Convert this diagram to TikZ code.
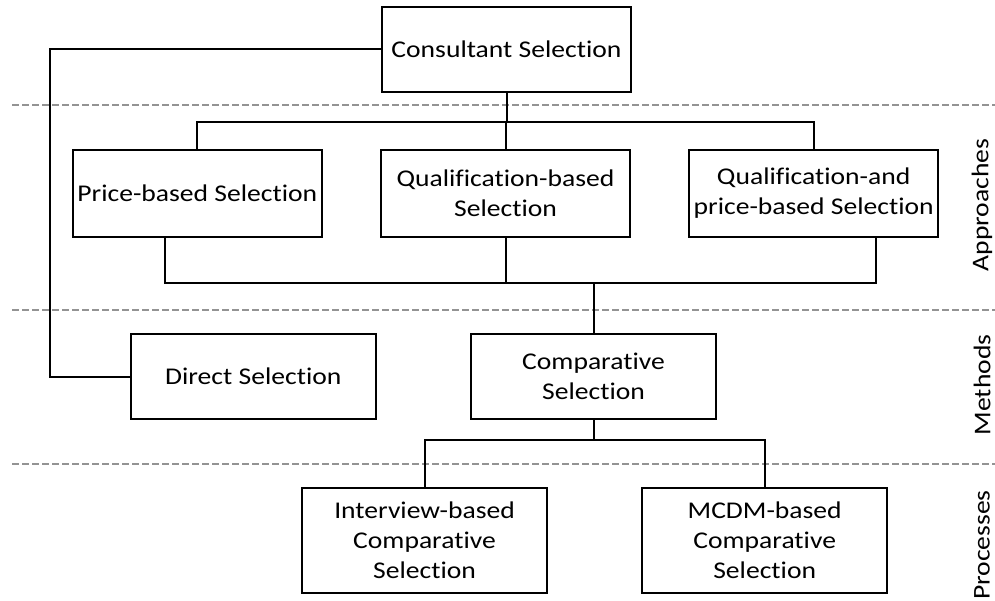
\documentclass[tikz,border=0pt]{standalone}
\usepackage{fontspec}
\setmainfont{Carlito}[FakeStretch=1.15,Ligatures=NoCommon]
\usetikzlibrary{positioning}
\usetikzlibrary{calc}
\tikzstyle{selbox}=[draw,rectangle,line width=2.2pt,align=center,inner sep=2pt,minimum width=245pt,minimum height=85pt,font=\fontsize{24}{30}\selectfont]
\tikzstyle{wide}=[minimum width=249pt]
\tikzstyle{layer}=[rotate=90,inner sep=0pt,font=\fontsize{24}{30}\selectfont]

\begin{document}
\begin{tikzpicture}
	[x=1pt,y=-1pt]
	\tikzstyle{link}=[line width=2pt];
	\tikzstyle{sep}=[gray!85,line width=1.3pt,dash pattern=on 7pt off 3pt];
	\useasboundingbox (0,0) rectangle (995,601);
	
	% layer separators
	\draw[sep] (12,105) -- (995,105);
	\draw[sep] (12,310) -- (995,310);
	\draw[sep] (12,464) -- (995,464);
	
	\node (cs) [selbox,wide] at (506.5,49.5) {Consultant Selection};
	\node (qb) [selbox,wide,minimum height=87pt] at (505.5,193.5) {Qualification-based\\Selection};
	\node (pb) [selbox,wide,minimum height=87pt,left=57pt of qb] {Price-based Selection};
	\node (qp) [selbox,wide,minimum height=87pt,right=57pt of qb] {Qualification-and\\price-based Selection};
	\node (cmp) [selbox] at (593.5,376.5) {Comparative\\Selection};
	\node (ds) [selbox,left=93pt of cmp] {Direct Selection};
	\node (iv) [selbox,minimum height=105pt] at (424.5,540.5) {Interview-based\\Comparative\\Selection};
	\node (mc) [selbox,minimum height=105pt,right=93pt of iv] {MCDM-based\\Comparative\\Selection};
	
	\node (ap) [layer] at (982,205) {Approaches};
	\node (me) [layer] at (982,385) {Methods};
	\node (pr) [layer] at (982,545) {Processes};
	
	\coordinate (lft) at (49.5,0);
	\coordinate (topbar) at (0,122);
	\coordinate (botbar) at (0,283);
	\coordinate (midbar) at (0,440);
	
	\draw[link] (cs.west) -| (lft |- ds.west) -- (ds.west);
	\draw[link] (cs.south) -- (cs.south |- topbar);
	\draw[link] (pb.north) -- (pb.north |- topbar) -| (qp.north);
	\draw[link] (qb.north) -- (qb.north |- topbar);
	\draw[link] ($(pb.south)+(-32,0)$) coordinate (pbs) -- (pbs |- botbar) -| ($(qp.south)+(62,0)$);
	\draw[link] (qb.south) -- (qb.south |- botbar);
	\draw[link] (cmp.north) -- (cmp.north |- botbar);
	\draw[link] (cmp.south) -- (cmp.south |- midbar);
	\draw[link] (iv.north) -- (iv.north |- midbar) -- (mc.north |- midbar) -- (mc.north);
\end{tikzpicture}
\end{document}
